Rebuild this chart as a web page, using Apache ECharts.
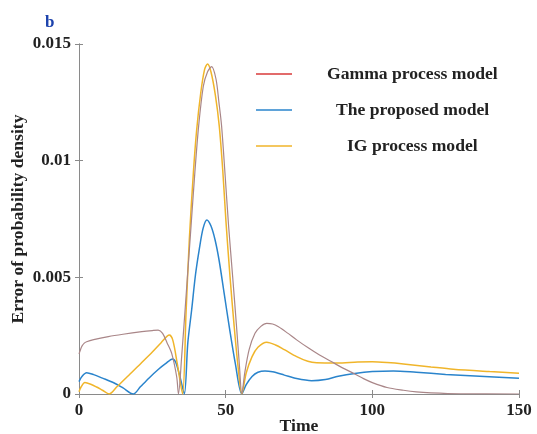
<!DOCTYPE html>
<html>
<head>
<meta charset="utf-8">
<script src="https://cdn.jsdelivr.net/npm/echarts@6/dist/echarts.min.js"></script>
<style>html,body{margin:0;padding:0;background:#fff;}#c{width:537px;height:434px;}</style>
</head>
<body>
<div id="c"></div>
<script>
var seriesNames = ['Gamma process model', 'The proposed model', 'IG process model'];
var xTicks = [0, 50, 100, 150];
var yTicks = [0, 0.005, 0.01, 0.015];
var yTickLabels = ['0', '0.005', '0.01', '0.015'];

var gammaTime = [0,0.5,1,1.8,2.6,5,10,15,21.4,25,27,28.5,30,31.6,33.3,33.9,
  35,36.5,38.2,39.5,40.8,42.4,43.8,45.2,46.7,47.7,48.6,49.8,51,52.4,53.7,54.7,55.5,
  56.5,58,60,62,64,66,68,71,74.2,78,82,86,90,94,97,100,105,110.6,115,120,130,150];
var gammaError = [0.00172,0.0019,0.00205,0.00218,0.00224,0.00233,0.00246,0.00256,0.00267,0.00272,0.00274,0.0026,0.0022,0.00174,0.00074,0,
  0.0016,0.0042,0.0072,0.0095,0.0115,0.0132,0.0138,0.01403,0.0135,0.0125,0.0115,0.0094,0.0072,0.005,0.0029,0.0012,0,
  0.0009,0.0019,0.0026,0.0029,0.00303,0.003,0.00288,0.00262,0.00232,0.00199,0.00167,0.00139,0.00111,0.00086,0.00066,0.00049,0.00028,0.00016,0.00009,0.00005,0.00001,0];

var proposedTime = [0,1,2.6,5,8,12,15,18.5,21,24,27,29.5,31.9,33,34.5,35.9,
  37.1,38.4,39.7,41,42.3,43.6,45,46.4,47.8,49.5,51.2,53.3,55.5,
  57,59,61,63.4,66,70,74.2,79.3,84,88.4,94,100,107.2,115,125,135,150];
var proposedError = [0.00053,0.00075,0.00091,0.00083,0.00068,0.00047,0.00026,0,0.00032,0.0007,0.00105,0.0013,0.0015,0.00135,0.0007,0,
  0.0022,0.0036,0.0051,0.0062,0.0071,0.00746,0.0072,0.0066,0.0057,0.0043,0.0029,0.0013,0,
  0.0004,0.00075,0.00093,0.00099,0.00095,0.00081,0.00066,0.00057,0.00062,0.00076,0.00088,0.00096,0.00099,0.00093,0.00084,0.00077,0.00067];

var igTime = [0,0.7,2,4,6,8,10.3,13,17,21,25,28,30.8,32,33.5,35.3,
  36.5,37.6,39,40.1,41.5,42.8,43.8,45,46.5,47.8,49,50.1,51.5,52.9,54.2,55.5,
  57,59,61,64,67,70,74.2,78,81,88,95,100,105,110.6,120,127.6,140,150];
var igError = [0.0001,0.0003,0.00049,0.00042,0.0003,0.00016,0,0.00032,0.0008,0.0013,0.0018,0.0022,0.00253,0.0023,0.0013,0,
  0.0035,0.0066,0.0095,0.0113,0.0129,0.0139,0.01414,0.0138,0.0128,0.0115,0.0096,0.0074,0.005,0.0029,0.0012,0,
  0.0009,0.0016,0.002,0.00222,0.0021,0.0019,0.0016,0.0014,0.00134,0.00133,0.00137,0.00138,0.00135,0.00129,0.00116,0.00106,0.00096,0.00089];

function pairs(t, v) { return t.map(function (x, i) { return [x, v[i]]; }); }

var FONT = '"Liberation Serif", "Times New Roman", serif';
var axisGray = '#8a8a8a';
var chart = echarts.init(document.getElementById('c'), null, {renderer: 'canvas'});

var lineColors = ['#a98688', '#2a84cc', '#f0b52a'];
var legendColors = ['#d83a3a', '#2a84cc', '#f0b52a'];
var legendPad = [30, 39, 50];

chart.setOption({
  animation: false,
  backgroundColor: '#ffffff',
  title: {
    text: 'b', left: 40, top: 9,
    textStyle: {fontFamily: FONT, fontWeight: 'bold', fontSize: 17, color: '#1d43ad'}
  },
  grid: {left: 79, right: 18, top: 44, bottom: 40, containLabel: false, outerBoundsMode: 'none'},
  legend: {
    orient: 'vertical', left: 256, top: 65, padding: 0,
    itemWidth: 36, itemHeight: 1.5, itemGap: 18,
    data: seriesNames.map(function (n, i) {
      return {name: n, icon: 'rect', itemStyle: {color: legendColors[i], borderWidth: 0},
        textStyle: {padding: [0, 0, 0, legendPad[i]]}};
    }),
    textStyle: {fontFamily: FONT, fontWeight: 'bold', fontSize: 17.6, color: '#222'}
  },
  xAxis: [{
    type: 'value', min: 0, max: 150, interval: 50, position: 'bottom',
    name: 'Time', nameLocation: 'middle', nameGap: 23, nameMoveOverlap: false,
    nameTextStyle: {fontFamily: FONT, fontWeight: 'bold', fontSize: 17.6, color: '#222'},
    axisLine: {show: true, lineStyle: {color: axisGray, width: 1}},
    axisTick: {show: true, inside: true, length: 4, lineStyle: {color: axisGray}},
    axisLabel: {fontFamily: FONT, fontWeight: 'bold', fontSize: 17, color: '#222', margin: 8,
      formatter: function (v) { return xTicks.indexOf(v) >= 0 ? String(v) : ''; }},
    splitLine: {show: false}
  }, {
    type: 'value', min: 0, max: 150, interval: 50, position: 'top',
    axisLine: {show: true, lineStyle: {color: axisGray, width: 1}},
    axisTick: {show: true, inside: true, length: 4, lineStyle: {color: axisGray}},
    axisLabel: {show: false}, splitLine: {show: false}
  }],
  yAxis: [{
    type: 'value', min: 0, max: 0.015, interval: 0.005, position: 'left',
    name: 'Error of probability density', nameLocation: 'middle', nameGap: 52, nameRotate: 90, nameMoveOverlap: false,
    nameTextStyle: {fontFamily: FONT, fontWeight: 'bold', fontSize: 17.6, color: '#222'},
    axisLine: {show: true, lineStyle: {color: axisGray, width: 1}},
    axisTick: {show: true, inside: true, length: 4, lineStyle: {color: axisGray}},
    axisLabel: {fontFamily: FONT, fontWeight: 'bold', fontSize: 17, color: '#222', margin: 8,
      formatter: function (v) {
        for (var i = 0; i < yTicks.length; i++) { if (Math.abs(yTicks[i] - v) < 1e-9) return yTickLabels[i]; }
        return '';
      }},
    splitLine: {show: false}
  }, {
    type: 'value', min: 0, max: 0.015, interval: 0.005, position: 'right',
    axisLine: {show: true, lineStyle: {color: axisGray, width: 1}},
    axisTick: {show: true, inside: true, length: 4, lineStyle: {color: axisGray}},
    axisLabel: {show: false}, splitLine: {show: false}
  }],
  series: [
    {name: seriesNames[0], type: 'line', data: pairs(gammaTime, gammaError), showSymbol: false, symbol: 'none',
     smooth: 0.3, lineStyle: {color: lineColors[0], width: 1.2}, itemStyle: {color: lineColors[0]}, z: 3},
    {name: seriesNames[1], type: 'line', data: pairs(proposedTime, proposedError), showSymbol: false, symbol: 'none',
     smooth: 0.3, lineStyle: {color: lineColors[1], width: 1.5}, itemStyle: {color: lineColors[1]}, z: 2},
    {name: seriesNames[2], type: 'line', data: pairs(igTime, igError), showSymbol: false, symbol: 'none',
     smooth: 0.3, lineStyle: {color: lineColors[2], width: 1.5}, itemStyle: {color: lineColors[2]}, z: 2}
  ]
});
</script>
</body>
</html>
